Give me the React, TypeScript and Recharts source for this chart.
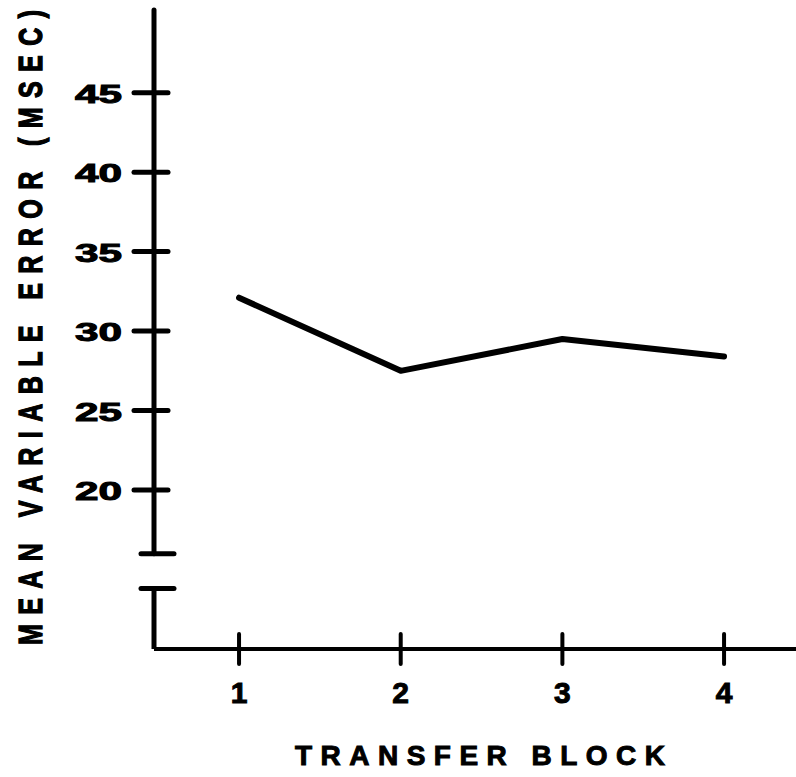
import { LineChart, Line, XAxis, YAxis, ReferenceLine, Label } from "recharts";

const blocks = [1, 2, 3, 4];
const meanVariableError = [32.1, 27.5, 29.5, 28.4];
const yTicks = [20, 25, 30, 35, 40, 45];
const xTicks = [1, 2, 3, 4];
const yDomain = [10, 50.2];
const xDomain = [0.474, 4.445];
// the y axis is broken between these two values
const axisBreak = [13.8, 16];

const data = blocks.map((block, i) => ({ block, error: meanVariableError[i] }));

const FONT = '"Liberation Sans", Arial, sans-serif';
const INK = "#000";

// scanned lettering is heavy, so give text a thin outline
const textStyle = {
  fontFamily: FONT,
  fontWeight: 700,
  fill: INK,
  stroke: INK,
  strokeWidth: 1,
};

const YTick = (props: any) => {
  const { x, y, payload } = props;
  return (
    <g>
      <line x1={x - 20} x2={x + 14} y1={y} y2={y} stroke={INK} strokeWidth={5} strokeLinecap="round" />
      <text
        x={x - 32}
        y={y + 10}
        textAnchor="end"
        textLength={47}
        lengthAdjust="spacingAndGlyphs"
        fontSize={26}
        style={textStyle}
      >
        {payload.value}
      </text>
    </g>
  );
};

const XTick = (props: any) => {
  const { x, y, payload } = props;
  return (
    <g>
      <line x1={x} x2={x} y1={y - 15} y2={y + 15} stroke={INK} strokeWidth={4} strokeLinecap="round" />
      <text x={x} y={y + 54} textAnchor="middle" fontSize={30} style={textStyle}>
        {payload.value}
      </text>
    </g>
  );
};

const YTitle = (props: any) => {
  const vb = props.viewBox;
  const cx = vb.x + 42;
  const cy = vb.y + vb.height / 2 - 2;
  return (
    <g transform={`translate(${cx}, ${cy}) rotate(-90) scale(1, 1.35)`}>
      <text
        x={0}
        y={0}
        textAnchor="middle"
        textLength={635}
        lengthAdjust="spacing"
        fontSize={25}
        style={textStyle}
      >
        MEAN VARIABLE ERROR (MSEC)
      </text>
    </g>
  );
};

const XTitle = (props: any) => {
  const vb = props.viewBox;
  return (
    <text
      x={vb.x + vb.width / 2 + 5}
      y={vb.y + 116}
      textAnchor="middle"
      textLength={370}
      lengthAdjust="spacing"
      fontSize={28}
      style={textStyle}
    >
      TRANSFER BLOCK
    </text>
  );
};

export default function App() {
  const x0 = xDomain[0];
  const pxPerUnit = 161.7;
  const markL = x0 - 13 / pxPerUnit;
  const markR = x0 + 20 / pxPerUnit;

  return (
    <div style={{ position: "absolute", left: 0, top: 0, background: "#fff" }}>
      <LineChart width={796} height={777} data={data} margin={{ top: 10, right: 0, bottom: 0, left: 0 }}>
        <XAxis
          type="number"
          dataKey="block"
          domain={xDomain}
          ticks={xTicks}
          allowDataOverflow
          height={128}
          axisLine={{ stroke: INK, strokeWidth: 4 }}
          tickLine={false}
          tickSize={0}
          tickMargin={0}
          tick={XTick}
        >
          <Label content={XTitle} />
        </XAxis>
        <YAxis
          type="number"
          domain={yDomain}
          ticks={yTicks}
          allowDataOverflow
          width={154}
          axisLine={false}
          tickLine={false}
          tickSize={0}
          tickMargin={0}
          tick={YTick}
        >
          <Label content={YTitle} />
        </YAxis>
        <ReferenceLine
          segment={[{ x: x0, y: axisBreak[1] }, { x: x0, y: yDomain[1] }]}
          stroke={INK}
          strokeWidth={5}
          strokeLinecap="round"
          ifOverflow="visible"
        />
        <ReferenceLine
          segment={[{ x: x0, y: yDomain[0] }, { x: x0, y: axisBreak[0] }]}
          stroke={INK}
          strokeWidth={5}
          ifOverflow="visible"
        />
        {axisBreak.map((v) => (
          <ReferenceLine
            key={v}
            segment={[{ x: markL, y: v }, { x: markR, y: v }]}
            stroke={INK}
            strokeWidth={5}
            strokeLinecap="round"
            ifOverflow="visible"
          />
        ))}
        <Line
          type="linear"
          dataKey="error"
          stroke={INK}
          strokeWidth={6}
          strokeLinecap="round"
          strokeLinejoin="round"
          dot={false}
          isAnimationActive={false}
        />
      </LineChart>
    </div>
  );
}
